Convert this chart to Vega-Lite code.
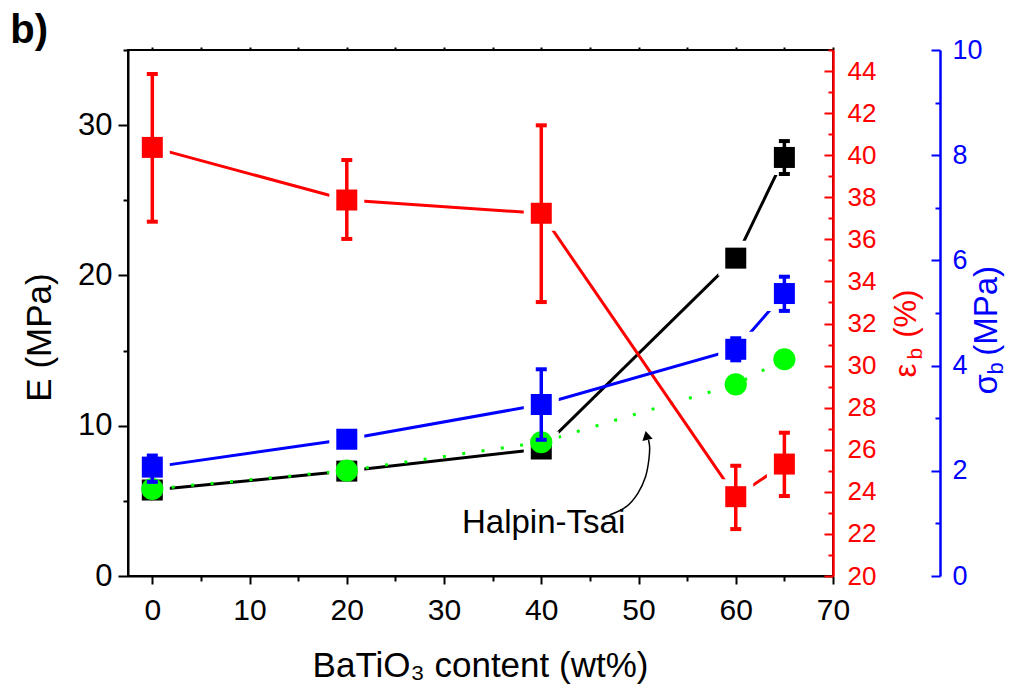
{
  "$schema": "https://vega.github.io/schema/vega-lite/v6.json",
  "width": 705,
  "height": 526,
  "autosize": {"type": "none"},
  "padding": {"left": 128, "top": 50, "right": 179, "bottom": 117},
  "background": "white",
  "config": {
    "font": "Liberation Sans",
    "view": {"stroke": "black", "strokeWidth": 2},
    "axis": {"grid": false, "labelFlush": false, "labelOverlap": false, "tickWidth": 2, "domainWidth": 2, "titleFontWeight": "normal", "labelFont": "Liberation Sans", "titleFont": "Liberation Sans"}
  },
  "datasets": {
    "pts": [
      {"s": "E", "x": 0, "y": 5.72, "lo": 5.72, "hi": 5.72},
      {"s": "E", "x": 20, "y": 6.98, "lo": 6.98, "hi": 6.98},
      {"s": "E", "x": 40, "y": 8.45, "lo": 8.45, "hi": 8.45},
      {"s": "E", "x": 60, "y": 21.15, "lo": 21.15, "hi": 21.15},
      {"s": "E", "x": 65, "y": 27.85, "lo": 26.75, "hi": 28.94},
      {"s": "HT", "x": 0, "y": 5.79},
      {"s": "HT", "x": 20, "y": 7.01},
      {"s": "HT", "x": 40, "y": 8.9},
      {"s": "HT", "x": 60, "y": 12.75},
      {"s": "HT", "x": 65, "y": 14.42},
      {"s": "eps", "x": 0, "y": 40.37, "lo": 36.84, "hi": 43.86},
      {"s": "eps", "x": 20, "y": 37.87, "lo": 36.02, "hi": 39.77},
      {"s": "eps", "x": 40, "y": 37.24, "lo": 33.02, "hi": 41.42},
      {"s": "eps", "x": 60, "y": 23.77, "lo": 22.23, "hi": 25.24},
      {"s": "eps", "x": 65, "y": 25.32, "lo": 23.8, "hi": 26.81},
      {"s": "sig", "x": 0, "y": 2.07, "lo": 1.79, "hi": 2.29},
      {"s": "sig", "x": 20, "y": 2.6, "lo": 2.6, "hi": 2.6},
      {"s": "sig", "x": 40, "y": 3.26, "lo": 2.59, "hi": 3.93},
      {"s": "sig", "x": 60, "y": 4.31, "lo": 4.1, "hi": 4.52},
      {"s": "sig", "x": 65, "y": 5.37, "lo": 5.04, "hi": 5.69}
    ],
    "arrow": [
      {"o": 1, "x": 47.02, "y": 4.06},
      {"o": 2, "x": 48.74, "y": 4.61},
      {"o": 3, "x": 49.93, "y": 5.5},
      {"o": 4, "x": 50.72, "y": 6.61},
      {"o": 5, "x": 51.06, "y": 7.72},
      {"o": 6, "x": 51.14, "y": 8.6},
      {"o": 7, "x": 51.03, "y": 9.05}
    ],
    "head": [{"x": 50.83, "y": 9.35}],
    "note": [{"x": 40.24, "y": 2.84, "t": "Halpin-Tsai"}],
    "tag": [{"x": -14.6, "y": 35.46, "t": "b)"}]
  },
  "resolve": {"scale": {"y": "independent"}, "axis": {"x": "independent", "y": "independent"}},
  "layer": [
    {
      "data": {"name": "pts"},
      "transform": [{"filter": "datum.s == 'E'"}],
      "mark": {"type": "line", "color": "black", "strokeWidth": 3},
      "encoding": {
        "x": {"field": "x", "type": "quantitative", "scale": {"domain": [-2.5, 70], "nice": false, "zero": false}, "axis": null},
        "y": {"field": "y", "type": "quantitative", "scale": {"domain": [0, 35], "nice": false, "zero": false},
          "axis": {"orient": "left", "values": [0, 10, 20, 30], "tickSize": 10, "tickColor": "black", "domainColor": "black", "labelFontSize": 31, "labelColor": "black", "labelPadding": 6,
            "title": "E (MPa)", "titleFontSize": 35, "titleColor": "black", "titleAngle": 270, "titleAlign": "center", "titleBaseline": "alphabetic", "titleX": -78, "titleY": 287}}
      }
    },
    {
      "data": {"name": "pts"},
      "transform": [{"filter": "datum.s == 'HT'"}],
      "mark": {"type": "line", "color": "#00ff00", "strokeWidth": 3, "strokeDash": [3, 16.5], "strokeCap": "butt"},
      "encoding": {
        "x": {"field": "x", "type": "quantitative", "scale": {"domain": [-2.5, 70], "nice": false, "zero": false},
          "axis": {"orient": "bottom", "values": [0, 10, 20, 30, 40, 50, 60, 70], "tickSize": 8, "tickColor": "black", "domainColor": "black", "labelFontSize": 30, "labelColor": "black", "labelPadding": 11,
            "title": "BaTiO₃ content (wt%)", "titleFontSize": 35, "titleColor": "black", "titleBaseline": "alphabetic", "titleAlign": "center", "titleX": 352, "titleY": 100}},
        "y": {"field": "y", "type": "quantitative", "scale": {"domain": [0, 35], "nice": false, "zero": false},
          "axis": {"orient": "left", "values": [5, 15, 25, 35], "tickSize": 5, "tickColor": "black", "labels": false, "domain": false, "title": null}}
      }
    },
    {
      "data": {"name": "pts"},
      "transform": [{"filter": "datum.s == 'eps'"}],
      "mark": {"type": "line", "color": "#ff0000", "strokeWidth": 3},
      "encoding": {
        "x": {"field": "x", "type": "quantitative", "scale": {"domain": [-2.5, 70], "nice": false, "zero": false},
          "axis": {"orient": "bottom", "values": [5, 15, 25, 35, 45, 55, 65], "tickSize": 5, "tickColor": "black", "labels": false, "domain": false, "title": null}},
        "y": {"field": "y", "type": "quantitative", "scale": {"domain": [20, 45], "nice": false, "zero": false},
          "axis": {"orient": "left", "offset": -705, "values": [20, 22, 24, 26, 28, 30, 32, 34, 36, 38, 40, 42, 44], "tickSize": 9, "tickColor": "#ff0000", "domainColor": "#ff0000", "domainWidth": 2.5, "labels": false, "title": null}}
      }
    },
    {
      "data": {"name": "pts"},
      "transform": [{"filter": "datum.s == 'sig'"}],
      "mark": {"type": "line", "color": "#0000ff", "strokeWidth": 3},
      "encoding": {
        "x": {"field": "x", "type": "quantitative", "scale": {"domain": [-2.5, 70], "nice": false, "zero": false},
          "axis": {"orient": "top", "values": [0, 5, 10, 15, 20, 25, 30, 35, 40, 45, 50, 55, 60, 65, 70], "tickSize": 3, "tickColor": "black", "labels": false, "domain": false, "title": null}},
        "y": {"field": "y", "type": "quantitative", "scale": {"domain": [0, 10], "nice": false, "zero": false},
          "axis": {"orient": "left", "offset": -812, "values": [0, 2, 4, 6, 8, 10], "tickSize": 9, "tickColor": "#0000ff", "domainColor": "#0000ff", "domainWidth": 2.5, "labels": false, "title": null}}
      }
    },
    {
      "data": {"name": "pts"},
      "transform": [{"filter": "datum.s == 'E'"}],
      "mark": {"type": "point", "shape": "square", "size": 1225, "filled": true, "color": "white", "opacity": 1},
      "encoding": {
        "x": {"field": "x", "type": "quantitative", "scale": {"domain": [-2.5, 70], "nice": false, "zero": false}, "axis": null},
        "y": {"field": "y", "type": "quantitative", "scale": {"domain": [0, 35], "nice": false, "zero": false}, "axis": null}
      }
    },
    {
      "data": {"name": "pts"},
      "transform": [{"filter": "datum.s == 'eps'"}],
      "mark": {"type": "point", "shape": "square", "size": 1225, "filled": true, "color": "white", "opacity": 1},
      "encoding": {
        "x": {"field": "x", "type": "quantitative", "scale": {"domain": [-2.5, 70], "nice": false, "zero": false}, "axis": null},
        "y": {"field": "y", "type": "quantitative", "scale": {"domain": [20, 45], "nice": false, "zero": false},
          "axis": {"orient": "left", "offset": -705, "values": [21, 23, 25, 27, 29, 31, 33, 35, 37, 39, 41, 43, 45], "tickSize": 5, "tickColor": "#ff0000", "labels": false, "domain": false, "title": null}}
      }
    },
    {
      "data": {"name": "pts"},
      "transform": [{"filter": "datum.s == 'sig'"}],
      "mark": {"type": "point", "shape": "square", "size": 1225, "filled": true, "color": "white", "opacity": 1},
      "encoding": {
        "x": {"field": "x", "type": "quantitative", "scale": {"domain": [-2.5, 70], "nice": false, "zero": false}, "axis": null},
        "y": {"field": "y", "type": "quantitative", "scale": {"domain": [0, 10], "nice": false, "zero": false},
          "axis": {"orient": "left", "offset": -812, "values": [1, 3, 5, 7, 9], "tickSize": 5, "tickColor": "#0000ff", "labels": false, "domain": false, "title": null}}
      }
    },
    {
      "data": {"name": "arrow"},
      "mark": {"type": "line", "color": "black", "strokeWidth": 1.5, "interpolate": "catmull-rom"},
      "encoding": {
        "x": {"field": "x", "type": "quantitative", "scale": {"domain": [-2.5, 70], "nice": false, "zero": false}, "axis": null},
        "y": {"field": "y", "type": "quantitative", "scale": {"domain": [0, 35], "nice": false, "zero": false}, "axis": null},
        "order": {"field": "o", "type": "quantitative"}
      }
    },
    {
      "data": {"name": "head"},
      "mark": {"type": "point", "shape": "triangle-up", "size": 110, "filled": true, "color": "black", "opacity": 1, "angle": -12},
      "encoding": {
        "x": {"field": "x", "type": "quantitative", "scale": {"domain": [-2.5, 70], "nice": false, "zero": false}, "axis": null},
        "y": {"field": "y", "type": "quantitative", "scale": {"domain": [0, 35], "nice": false, "zero": false}, "axis": null}
      }
    },
    {
      "data": {"name": "note"},
      "mark": {"type": "text", "fontSize": 33, "color": "black", "align": "center", "baseline": "alphabetic", "font": "Liberation Sans"},
      "encoding": {
        "x": {"field": "x", "type": "quantitative", "scale": {"domain": [-2.5, 70], "nice": false, "zero": false}, "axis": null},
        "y": {"field": "y", "type": "quantitative", "scale": {"domain": [0, 35], "nice": false, "zero": false}, "axis": null},
        "text": {"field": "t"}
      }
    },
    {
      "data": {"name": "tag"},
      "mark": {"type": "text", "fontSize": 40, "fontWeight": "bold", "color": "black", "align": "left", "baseline": "alphabetic", "font": "Liberation Sans"},
      "encoding": {
        "x": {"field": "x", "type": "quantitative", "scale": {"domain": [-2.5, 70], "nice": false, "zero": false}, "axis": null},
        "y": {"field": "y", "type": "quantitative", "scale": {"domain": [0, 35], "nice": false, "zero": false}, "axis": null},
        "text": {"field": "t"}
      }
    },
    {
      "data": {"name": "pts"},
      "transform": [{"filter": "datum.s == 'E'"}],
      "mark": {"type": "rule", "color": "black", "strokeWidth": 3.5},
      "encoding": {
        "x": {"field": "x", "type": "quantitative", "scale": {"domain": [-2.5, 70], "nice": false, "zero": false}, "axis": null},
        "y": {"field": "lo", "type": "quantitative", "scale": {"domain": [0, 35], "nice": false, "zero": false}, "axis": null},
        "y2": {"field": "hi"}
      }
    },
    {
      "data": {"name": "pts"},
      "transform": [{"filter": "datum.s == 'E'"}, {"fold": ["lo", "hi"], "as": ["k", "v"]}],
      "mark": {"type": "tick", "orient": "horizontal", "color": "black", "size": 11, "thickness": 4, "opacity": 1},
      "encoding": {
        "x": {"field": "x", "type": "quantitative", "scale": {"domain": [-2.5, 70], "nice": false, "zero": false}, "axis": null},
        "y": {"field": "v", "type": "quantitative", "scale": {"domain": [0, 35], "nice": false, "zero": false}, "axis": null}
      }
    },
    {
      "data": {"name": "pts"},
      "transform": [{"filter": "datum.s == 'E'"}],
      "mark": {"type": "point", "shape": "square", "size": 441, "filled": true, "color": "black", "opacity": 1},
      "encoding": {
        "x": {"field": "x", "type": "quantitative", "scale": {"domain": [-2.5, 70], "nice": false, "zero": false}, "axis": null},
        "y": {"field": "y", "type": "quantitative", "scale": {"domain": [0, 35], "nice": false, "zero": false}, "axis": null}
      }
    },
    {
      "data": {"name": "pts"},
      "transform": [{"filter": "datum.s == 'HT'"}],
      "mark": {"type": "point", "shape": "circle", "size": 491, "filled": true, "color": "#00ff00", "opacity": 1},
      "encoding": {
        "x": {"field": "x", "type": "quantitative", "scale": {"domain": [-2.5, 70], "nice": false, "zero": false}, "axis": null},
        "y": {"field": "y", "type": "quantitative", "scale": {"domain": [0, 35], "nice": false, "zero": false}, "axis": null}
      }
    },
    {
      "data": {"name": "pts"},
      "transform": [{"filter": "datum.s == 'eps'"}],
      "mark": {"type": "rule", "color": "#ff0000", "strokeWidth": 3.5},
      "encoding": {
        "x": {"field": "x", "type": "quantitative", "scale": {"domain": [-2.5, 70], "nice": false, "zero": false}, "axis": null},
        "y": {"field": "lo", "type": "quantitative", "scale": {"domain": [20, 45], "nice": false, "zero": false},
          "axis": {"orient": "right", "values": [20, 22, 24, 26, 28, 30, 32, 34, 36, 38, 40, 42, 44], "ticks": false, "tickSize": 0, "domain": false, "labelColor": "#ff0000", "labelFontSize": 26, "labelPadding": 14,
            "title": "ε\u00a0\u00a0\u00a0(%)", "titleColor": "#ff0000", "titleFontSize": 31, "titleAngle": 270, "titleAlign": "left", "titleBaseline": "alphabetic", "titleX": 82, "titleY": 327}},
        "y2": {"field": "hi"}
      }
    },
    {
      "data": {"name": "pts"},
      "transform": [{"filter": "datum.s == 'eps'"}, {"fold": ["lo", "hi"], "as": ["k", "v"]}],
      "mark": {"type": "tick", "orient": "horizontal", "color": "#ff0000", "size": 11, "thickness": 4, "opacity": 1},
      "encoding": {
        "x": {"field": "x", "type": "quantitative", "scale": {"domain": [-2.5, 70], "nice": false, "zero": false}, "axis": null},
        "y": {"field": "v", "type": "quantitative", "scale": {"domain": [20, 45], "nice": false, "zero": false},
          "axis": {"orient": "right", "ticks": false, "tickSize": 0, "labels": false, "domain": false,
            "title": "b", "titleColor": "#ff0000", "titleFontSize": 21, "titleAngle": 270, "titleAlign": "left", "titleBaseline": "alphabetic", "titleX": 88, "titleY": 309}}
      }
    },
    {
      "data": {"name": "pts"},
      "transform": [{"filter": "datum.s == 'eps'"}],
      "mark": {"type": "point", "shape": "square", "size": 441, "filled": true, "color": "#ff0000", "opacity": 1},
      "encoding": {
        "x": {"field": "x", "type": "quantitative", "scale": {"domain": [-2.5, 70], "nice": false, "zero": false}, "axis": null},
        "y": {"field": "y", "type": "quantitative", "scale": {"domain": [20, 45], "nice": false, "zero": false}, "axis": null}
      }
    },
    {
      "data": {"name": "pts"},
      "transform": [{"filter": "datum.s == 'sig'"}],
      "mark": {"type": "rule", "color": "#0000ff", "strokeWidth": 3.5},
      "encoding": {
        "x": {"field": "x", "type": "quantitative", "scale": {"domain": [-2.5, 70], "nice": false, "zero": false}, "axis": null},
        "y": {"field": "lo", "type": "quantitative", "scale": {"domain": [0, 10], "nice": false, "zero": false},
          "axis": {"orient": "right", "offset": 107, "values": [0, 2, 4, 6, 8, 10], "ticks": false, "tickSize": 0, "domain": false, "labelColor": "#0000ff", "labelFontSize": 27, "labelPadding": 12,
            "title": "σ\u00a0\u00a0(MPa)", "titleColor": "#0000ff", "titleFontSize": 33, "titleAngle": 270, "titleAlign": "left", "titleBaseline": "alphabetic", "titleX": 56, "titleY": 344}},
        "y2": {"field": "hi"}
      }
    },
    {
      "data": {"name": "pts"},
      "transform": [{"filter": "datum.s == 'sig'"}, {"fold": ["lo", "hi"], "as": ["k", "v"]}],
      "mark": {"type": "tick", "orient": "horizontal", "color": "#0000ff", "size": 11, "thickness": 4, "opacity": 1},
      "encoding": {
        "x": {"field": "x", "type": "quantitative", "scale": {"domain": [-2.5, 70], "nice": false, "zero": false}, "axis": null},
        "y": {"field": "v", "type": "quantitative", "scale": {"domain": [0, 10], "nice": false, "zero": false},
          "axis": {"orient": "right", "offset": 107, "ticks": false, "tickSize": 0, "labels": false, "domain": false,
            "title": "b", "titleColor": "#0000ff", "titleFontSize": 22, "titleAngle": 270, "titleAlign": "left", "titleBaseline": "alphabetic", "titleX": 62, "titleY": 324}}
      }
    },
    {
      "data": {"name": "pts"},
      "transform": [{"filter": "datum.s == 'sig'"}],
      "mark": {"type": "point", "shape": "square", "size": 441, "filled": true, "color": "#0000ff", "opacity": 1},
      "encoding": {
        "x": {"field": "x", "type": "quantitative", "scale": {"domain": [-2.5, 70], "nice": false, "zero": false}, "axis": null},
        "y": {"field": "y", "type": "quantitative", "scale": {"domain": [0, 10], "nice": false, "zero": false}, "axis": null}
      }
    }
  ]
}
